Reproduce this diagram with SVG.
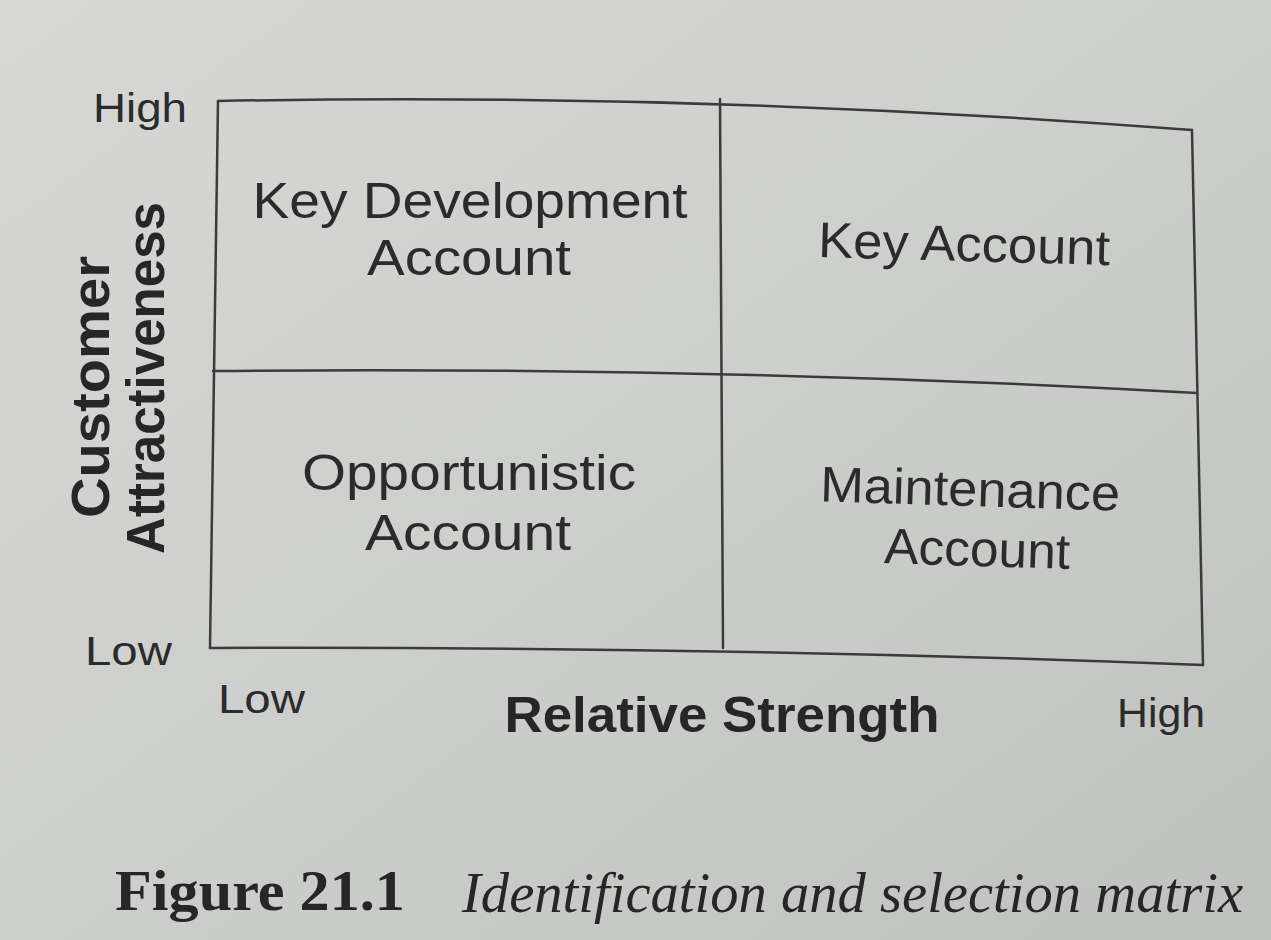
<svg xmlns="http://www.w3.org/2000/svg" width="1271" height="940" viewBox="0 0 1271 940">
<defs>
<linearGradient id="paper" x1="0" y1="0" x2="1" y2="1">
<stop offset="0" stop-color="#d7d8d5"/>
<stop offset="0.5" stop-color="#cdcfcc"/>
<stop offset="1" stop-color="#bfc1be"/>
</linearGradient>
<style>
.ln{fill:none;stroke:#3b3b3b;stroke-width:2.5;stroke-linecap:round}
.lbl{font-family:"Liberation Sans",Arial,sans-serif;fill:#2b2b2b;text-anchor:middle}
.ax{font-family:"Liberation Sans",Arial,sans-serif;fill:#2b2b2b;font-size:40px}
.axb{font-family:"Liberation Sans",Arial,sans-serif;fill:#262626;font-weight:bold;text-anchor:middle}
.cap{font-family:"Liberation Serif","Times New Roman",serif;fill:#262626}
</style>
</defs>
<rect width="1271" height="940" fill="url(#paper)"/>
<g id="connectors">
<path class="ln" d="M218,101 Q700,92 1192,130"/>
<path class="ln" d="M1192,130 L1203,665"/>
<path class="ln" d="M210,648 Q720,646 1203,665"/>
<path class="ln" d="M218,101 L210,648"/>
<path class="ln" d="M720,99 L723,648"/>
<path class="ln" d="M213,371 Q720,366 1197,393"/>
</g>
<g id="q-key-development">
<text class="lbl" x="470" y="218" font-size="50" textLength="435" lengthAdjust="spacingAndGlyphs">Key Development</text>
<text class="lbl" x="469" y="275" font-size="50" textLength="204" lengthAdjust="spacingAndGlyphs">Account</text>
</g>
<g id="q-key-account">
<text class="lbl" x="964" y="261" font-size="50" textLength="292" lengthAdjust="spacingAndGlyphs" transform="rotate(1.6 964 250)">Key Account</text>
</g>
<g id="q-opportunistic">
<text class="lbl" x="469" y="490" font-size="50" textLength="334" lengthAdjust="spacingAndGlyphs">Opportunistic</text>
<text class="lbl" x="468" y="550" font-size="50" textLength="206" lengthAdjust="spacingAndGlyphs">Account</text>
</g>
<g id="q-maintenance">
<text class="lbl" x="970" y="506" font-size="50" textLength="300" lengthAdjust="spacingAndGlyphs" transform="rotate(1.8 970 495)">Maintenance</text>
<text class="lbl" x="977" y="566" font-size="50" textLength="186" lengthAdjust="spacingAndGlyphs" transform="rotate(1.8 977 555)">Account</text>
</g>
<g id="y-axis">
<text class="ax" x="93" y="122" textLength="94" lengthAdjust="spacingAndGlyphs">High</text>
<text class="ax" x="85" y="665" textLength="87" lengthAdjust="spacingAndGlyphs">Low</text>
<text class="axb" font-size="54" transform="translate(109 387) rotate(-90)" textLength="262" lengthAdjust="spacingAndGlyphs">Customer</text>
<text class="axb" font-size="54" transform="translate(164 378) rotate(-90)" textLength="352" lengthAdjust="spacingAndGlyphs">Attractiveness</text>
</g>
<g id="x-axis">
<text class="ax" x="218" y="713" textLength="87" lengthAdjust="spacingAndGlyphs">Low</text>
<text class="axb" x="722" y="732" font-size="50" textLength="435" lengthAdjust="spacingAndGlyphs">Relative Strength</text>
<text class="ax" x="1117" y="727" textLength="88" lengthAdjust="spacingAndGlyphs">High</text>
</g>
<g id="caption">
<text class="cap" x="115" y="910" font-size="58" font-weight="bold" textLength="290" lengthAdjust="spacingAndGlyphs">Figure 21.1</text>
<text class="cap" x="462" y="912" font-size="58" font-style="italic" textLength="781" lengthAdjust="spacingAndGlyphs">Identification and selection matrix</text>
</g>
</svg>
